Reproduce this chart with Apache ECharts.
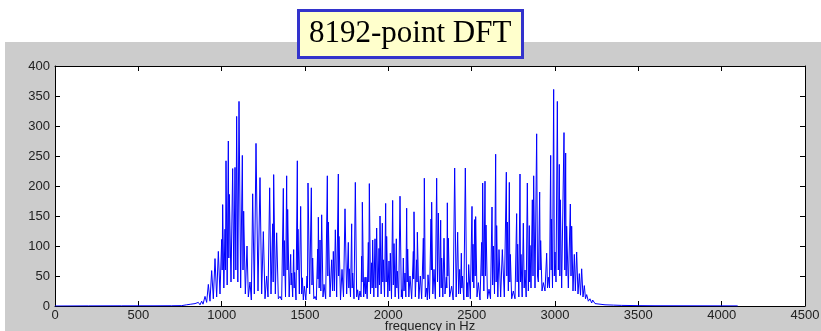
<!DOCTYPE html>
<html>
<head>
<meta charset="utf-8">
<script src="https://cdn.jsdelivr.net/npm/echarts@6/dist/echarts.min.js"></script>
<style>
  html, body { margin: 0; padding: 0; background: #fff; }
  #chart { width: 821px; height: 331px; }
</style>
</head>
<body>
<div id="chart"></div>
<script>
// ---- data ----
var titleText = "8192-point DFT";
var xAxisName = "frequency in Hz";
var xTicks = [0, 500, 1000, 1500, 2000, 2500, 3000, 3500, 4000, 4500];
var yTicks = [0, 50, 100, 150, 200, 250, 300, 350, 400];

// frequency (Hz) of each read point (peaks and troughs of the spectrum)
var freqHz = [
  0, 200, 400, 600, 700, 760, 790, 800, 815, 825, 840, 850, 860, 870, 880, 888,
  900, 910, 920, 930, 940, 950, 960, 970, 980, 990, 1000, 1003, 1006, 1013, 1020, 1023,
  1026, 1033, 1040, 1043, 1046, 1056, 1066, 1073, 1080, 1085, 1090, 1097, 1104, 1114, 1124, 1128,
  1132, 1142, 1152, 1160, 1170, 1178, 1186, 1196, 1206, 1218, 1230, 1240, 1250, 1260, 1270, 1278,
  1288, 1296, 1306, 1309, 1312, 1322, 1330, 1340, 1350, 1360, 1370, 1373, 1376, 1383, 1390, 1393,
  1396, 1405, 1414, 1417, 1420, 1426, 1432, 1435, 1438, 1446, 1454, 1456, 1458, 1466, 1474, 1480,
  1484, 1490, 1496, 1505, 1512, 1515, 1518, 1528, 1538, 1542, 1546, 1553, 1560, 1568, 1576, 1578,
  1580, 1585, 1590, 1595, 1600, 1608, 1614, 1624, 1634, 1637, 1640, 1650, 1660, 1665, 1670, 1676,
  1682, 1690, 1700, 1702, 1704, 1713, 1722, 1731, 1740, 1750, 1760, 1763, 1766, 1773, 1780, 1783,
  1786, 1794, 1802, 1810, 1816, 1822, 1830, 1836, 1840, 1842, 1844, 1852, 1860, 1863, 1866, 1873,
  1880, 1883, 1886, 1893, 1900, 1903, 1906, 1913, 1920, 1925, 1930, 1937, 1944, 1947, 1950, 1957,
  1964, 1967, 1970, 1977, 1984, 1987, 1990, 1997, 2004, 2008, 2012, 2019, 2026, 2030, 2034, 2041,
  2048, 2051, 2054, 2062, 2070, 2078, 2080, 2085, 2090, 2094, 2100, 2105, 2110, 2113, 2116, 2123,
  2130, 2140, 2150, 2152, 2154, 2162, 2170, 2172, 2174, 2183, 2192, 2200, 2210, 2213, 2216, 2222,
  2230, 2234, 2238, 2247, 2256, 2258, 2260, 2267, 2274, 2282, 2290, 2295, 2300, 2308, 2314, 2317,
  2320, 2327, 2334, 2340, 2348, 2351, 2354, 2357, 2360, 2368, 2380, 2389, 2398, 2407, 2416, 2422,
  2428, 2433, 2438, 2441, 2444, 2453, 2462, 2470, 2474, 2478, 2482, 2492, 2502, 2505, 2508, 2513,
  2518, 2521, 2524, 2532, 2540, 2550, 2560, 2563, 2566, 2573, 2580, 2583, 2586, 2595, 2604, 2613,
  2622, 2626, 2630, 2637, 2644, 2647, 2650, 2657, 2664, 2674, 2684, 2696, 2708, 2711, 2714, 2720,
  2726, 2729, 2732, 2740, 2750, 2760, 2770, 2773, 2776, 2783, 2790, 2793, 2796, 2803, 2810, 2815,
  2820, 2827, 2834, 2840, 2846, 2848, 2850, 2856, 2864, 2868, 2872, 2880, 2890, 2895, 2900, 2908,
  2911, 2914, 2922, 2930, 2940, 2950, 2955, 2960, 2967, 2974, 2977, 2978, 2985, 2992, 2996, 3000,
  3006, 3014, 3020, 3026, 3029, 3032, 3040, 3054, 3059, 3064, 3067, 3070, 3080, 3092, 3096, 3100,
  3108, 3116, 3122, 3130, 3138, 3146, 3153, 3160, 3168, 3176, 3183, 3190, 3200, 3210, 3220, 3226,
  3240, 3250, 3270, 3300, 3350, 3400, 3500, 3600, 4096
];

// DFT magnitude at each of those points
var magnitude = [
  0, 0.2, 0.3, 0.3, 0.4, 0.6, 2, 0.8, 3, 1, 4, 2, 6, 2, 8, 3,
  16, 6, 36, 8, 59, 12, 79, 15, 91, 20, 111, 60, 169, 30, 128, 60,
  242, 35, 275, 80, 186, 40, 229, 45, 231, 60, 316, 40, 341, 30, 251, 60,
  158, 20, 100, 15, 40, 10, 187, 20, 271, 25, 214, 20, 124, 12, 50, 15,
  197, 20, 137, 40, 219, 20, 122, 12, 16, 10, 196, 50, 109, 15, 217, 60,
  161, 15, 86, 35, 55, 15, 94, 30, 56, 10, 242, 60, 128, 20, 166, 20,
  47, 10, 33, 10, 50, 30, 205, 20, 197, 35, 80, 12, 16, 10, 95, 45,
  148, 30, 110, 25, 152, 15, 36, 12, 217, 50, 140, 15, 77, 25, 91, 25,
  127, 15, 220, 50, 116, 10, 61, 15, 162, 20, 106, 30, 62, 15, 137, 30,
  55, 12, 206, 15, 27, 10, 25, 15, 83, 40, 173, 15, 48, 20, 48, 12,
  106, 40, 204, 20, 72, 30, 110, 15, 112, 30, 130, 15, 96, 35, 150, 20,
  138, 40, 77, 15, 171, 40, 116, 15, 75, 25, 88, 12, 176, 35, 104, 15,
  112, 30, 58, 12, 183, 15, 27, 12, 80, 25, 55, 15, 163, 40, 95, 15,
  50, 12, 91, 45, 157, 15, 77, 40, 123, 12, 50, 12, 113, 45, 213, 15,
  30, 10, 52, 12, 145, 60, 173, 20, 61, 12, 213, 40, 155, 15, 143, 30,
  80, 15, 113, 20, 48, 30, 172, 50, 113, 15, 33, 10, 230, 15, 123, 20,
  61, 20, 88, 30, 50, 10, 230, 15, 39, 15, 69, 12, 166, 40, 103, 30,
  144, 50, 149, 15, 39, 10, 106, 50, 205, 25, 208, 50, 135, 12, 28, 12,
  165, 35, 100, 20, 253, 40, 134, 15, 94, 15, 94, 15, 223, 50, 140, 25,
  206, 40, 86, 12, 25, 12, 154, 40, 103, 15, 220, 40, 86, 15, 138, 30,
  60, 15, 205, 25, 134, 40, 101, 30, 177, 50, 217, 30, 287, 50, 40, 190,
  60, 109, 25, 39, 25, 88, 30, 48, 30, 251, 60, 145, 30, 361, 50, 90,
  40, 341, 60, 236, 50, 177, 30, 289, 60, 255, 50, 133, 30, 170, 50, 133,
  25, 86, 25, 90, 20, 54, 18, 62, 15, 34, 12, 19, 8, 12, 5, 10,
  4, 6, 3, 2, 1.5, 1, 0.6, 0.4, 0.2
];

// ---- chart ----
var chart = echarts.init(document.getElementById('chart'), null, { renderer: 'canvas' });
var lineData = freqHz.map(function (f, i) { return [f, magnitude[i]]; });

var axisFont = { fontFamily: 'Liberation Sans', fontSize: 13, color: '#222' };

chart.setOption({
  animation: false,
  backgroundColor: '#ffffff',
  graphic: [{
    type: 'rect', z: -10, silent: true,
    shape: { x: 5, y: 42, width: 816, height: 289 },
    style: { fill: '#cccccc' }
  }],
  title: {
    text: titleText,
    left: 298, top: 10,
    padding: [6, 11],
    backgroundColor: '#ffffcc',
    borderColor: '#3333cc',
    borderWidth: 3,
    textStyle: { fontFamily: 'Liberation Serif', fontSize: 31, lineHeight: 36, fontWeight: 'normal', color: '#000' }
  },
  grid: {
    left: 55, top: 66, width: 750, height: 240,
    outerBoundsMode: 'none',
    containLabel: false,
    show: true, backgroundColor: '#ffffff', borderWidth: 0
  },
  xAxis: [{
    type: 'value', min: 0, max: 4500, interval: 500, position: 'bottom',
    name: xAxisName, nameLocation: 'middle', nameGap: 14,
    nameMoveOverlap: false,
    nameTextStyle: { fontFamily: 'Liberation Sans', fontSize: 13, color: '#222' },
    axisLine: { show: true, onZero: false, lineStyle: { color: '#000', width: 1 } },
    axisTick: { show: true, inside: true, length: 5, lineStyle: { color: '#000' } },
    axisLabel: Object.assign({ margin: 3, formatter: function (v) { return xTicks.indexOf(v) >= 0 ? String(v) : ''; } }, axisFont),
    splitLine: { show: false }
  }, {
    type: 'value', min: 0, max: 4500, interval: 500, position: 'top',
    axisLine: { show: true, onZero: false, lineStyle: { color: '#000', width: 1 } },
    axisTick: { show: true, inside: true, length: 5, lineStyle: { color: '#000' } },
    axisLabel: { show: false }, splitLine: { show: false }
  }],
  yAxis: [{
    type: 'value', min: 0, max: 400, interval: 50, position: 'left',
    axisLine: { show: true, onZero: false, lineStyle: { color: '#000', width: 1 } },
    axisTick: { show: true, inside: true, length: 5, lineStyle: { color: '#000' } },
    axisLabel: Object.assign({ margin: 5, formatter: function (v) { return yTicks.indexOf(v) >= 0 ? String(v) : ''; } }, axisFont),
    splitLine: { show: false }
  }, {
    type: 'value', min: 0, max: 400, interval: 50, position: 'right',
    axisLine: { show: true, onZero: false, lineStyle: { color: '#000', width: 1 } },
    axisTick: { show: true, inside: true, length: 5, lineStyle: { color: '#000' } },
    axisLabel: { show: false }, splitLine: { show: false }
  }],
  series: [{
    type: 'line',
    xAxisIndex: 0, yAxisIndex: 0,
    data: lineData,
    showSymbol: false,
    symbol: 'none',
    lineStyle: { color: '#0000ff', width: 1 },
    z: 5
  }]
});
</script>
</body>
</html>
